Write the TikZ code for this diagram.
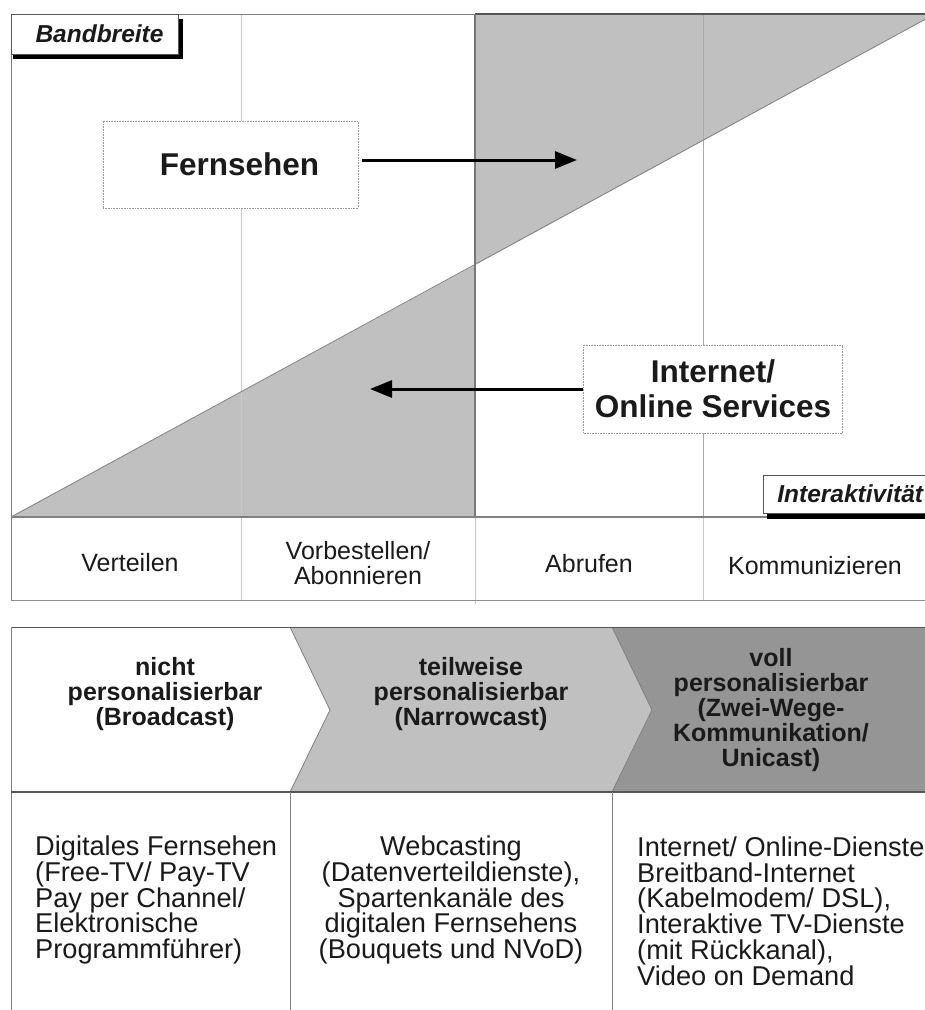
\documentclass[tikz,border=0pt]{standalone}
\usepackage{fontspec}
\setmainfont{Liberation Sans}
\usetikzlibrary{arrows.meta}

\definecolor{shadegray}{HTML}{C0C0C0}
\definecolor{darkchev}{HTML}{959595}
\definecolor{gridlight}{HTML}{C8C8C8}
\definecolor{framegray}{HTML}{808080}
\definecolor{edgedark}{HTML}{555555}
\definecolor{txt}{HTML}{1A1A1A}

\begin{document}
\begin{tikzpicture}[x=1pt,y=-1pt,
  every node/.style={text=txt, inner sep=0pt},
  axislbl/.style={font=\fontsize{25}{24.5}\selectfont, align=center},
  chevtxt/.style={font=\bfseries\fontsize{25}{25}\selectfont, align=center},
  celltxt/.style={font=\fontsize{27.2}{25.8}\selectfont},
  bigtxt/.style={font=\bfseries\fontsize{31.5}{35}\selectfont, align=center},
  tagtxt/.style={font=\bfseries\itshape\fontsize{24.5}{26}\selectfont},
  dotbox/.style={draw=framegray!80, densely dotted, line width=0.6pt, fill=white},
  tagbox/.style={draw=edgedark, line width=0.8pt, fill=white},
  thinline/.style={draw=gridlight, line width=1pt},
  frameline/.style={draw=framegray, line width=1pt},
  bigarrow/.style={draw=black, line width=3pt, -{Triangle[length=22pt,width=17pt]}},
]
\useasboundingbox (0,0) rectangle (925,1010);
\clip (0,0) rectangle (925,1010);

% ---------- upper chart: bandwidth vs. interactivity ----------
% shaded regions below / above the diagonal
\fill[shadegray] (11,517) -- (475,265) -- (475,517) -- cycle;
\fill[shadegray] (475,265) -- (935,14) -- (475,14) -- cycle;
% grid lines
\draw[thinline] (241,14) -- (241,600);
\draw[draw=gridlight!85!black, line width=1pt] (703,14) -- (703,517);
\draw[thinline] (703,517) -- (703,600);
% diagonal
\draw[draw=gray, line width=0.8pt] (11,517) -- (935,14);
% frame
\draw[frameline] (11,14) -- (475,14);
\draw[draw=edgedark, line width=1.2pt] (475,14) -- (925,14);
\draw[draw=edgedark!80, line width=1.2pt] (475,14) -- (475,517);
\draw[draw=gridlight, line width=1pt] (475,517) -- (475,604);
\draw[frameline] (11,14) -- (11,600);
\draw[draw=gray, line width=2.2pt] (11,517) -- (925,517);
\draw[draw=framegray!90, line width=1pt] (11,600) -- (925,600);

% axis tags with shadows
\coordinate (bwSW) at (11,54);
\coordinate (bwNE) at (178,14);
\fill[black] ([xshift=2pt,yshift=-5pt]bwSW) rectangle ([xshift=5pt,yshift=-5pt]bwNE);
\node[tagbox, tagtxt, minimum width=167pt, minimum height=40pt] (bw) at (94.5,34) {\hspace*{10pt}Bandbreite};

\fill[black] (767,513) rectangle (925,519);
\node[tagbox, tagtxt, minimum width=200pt, minimum height=38pt, anchor=west, text width=200pt, align=left] (ia) at (763,494) {\hspace*{14pt}Interaktivität};

% labelled boxes with arrows
\node[dotbox, bigtxt, minimum width=255pt, minimum height=87pt] (fern) at (230.5,164.5) {\hspace*{18pt}Fernsehen};
\coordinate (fernTip) at (577,160);
\draw[bigarrow] ([shift={(4,-4.5)}]fern.east) -- (fernTip);

\node[dotbox, bigtxt, minimum width=259pt, minimum height=88pt] (inet) at (713,389) {Internet/\\Online Services};
\coordinate (inetTip) at (370,389);
\draw[bigarrow] (inet.west) -- (inetTip);

% axis categories
\node[axislbl] (c1) at (130,563) {Verteilen};
\node[axislbl] (c2) at (358,563) {Vorbestellen/\\Abonnieren};
\node[axislbl] (c3) at (589,564) {Abrufen};
\node[axislbl] (c4) at (815,566) {Kommunizieren};

% ---------- lower part: degree of personalisation ----------
\fill[white] (11,627) -- (290,627) -- (330,710) -- (290,792) -- (11,792) -- cycle;
\fill[shadegray] (290,627) -- (612,627) -- (652,710) -- (612,792) -- (290,792) -- (330,710) -- cycle;
\fill[darkchev] (612,627) -- (935,627) -- (935,792) -- (612,792) -- (652,710) -- cycle;
\draw[draw=gray, line width=0.8pt] (290,627) -- (330,710) -- (290,792);
\draw[draw=gray, line width=0.8pt] (612,627) -- (652,710) -- (612,792);
\draw[draw=edgedark, line width=1pt] (11,627) -- (925,627);
\draw[draw=framegray, line width=1pt] (11,627) -- (11,1010);
\draw[draw=edgedark, line width=1.8pt] (11,792) -- (925,792);
\draw[draw=framegray, line width=1pt] (290,792) -- (290,1010);
\draw[draw=framegray, line width=1pt] (612,792) -- (612,1010);

\node[chevtxt] (p1) at (165,694) {nicht\\personalisierbar\\(Broadcast)};
\node[chevtxt] (p2) at (471,694) {teilweise\\personalisierbar\\(Narrowcast)};
\node[chevtxt] (p3) at (771,710) {voll\\personalisierbar\\(Zwei-Wege-\\Kommunikation/\\Unicast)};

\node[celltxt, align=left, anchor=west] (e1) at (35,900) {Digitales Fernsehen\\(Free-TV/ Pay-TV\\Pay per Channel/\\Elektronische\\Programmführer)};
\node[celltxt, align=center, anchor=center] (e2) at (451,900) {Webcasting\\(Datenverteildienste),\\Spartenkanäle des\\digitalen Fernsehens\\(Bouquets und NVoD)};
\node[celltxt, align=left, anchor=west] (e3) at (637,911) {Internet/ Online-Dienste,\\Breitband-Internet\\(Kabelmodem/ DSL),\\Interaktive TV-Dienste\\(mit Rückkanal),\\Video on Demand};
\end{tikzpicture}
\end{document}
